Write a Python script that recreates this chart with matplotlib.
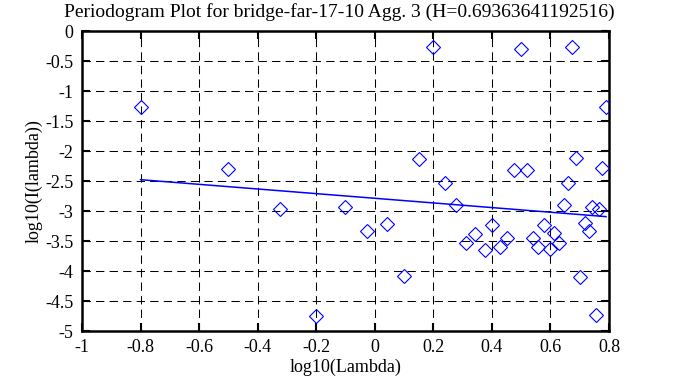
import matplotlib
matplotlib.use("Agg")
import matplotlib.pyplot as plt

# Data
log_lambda = [-0.800, -0.501, -0.325, -0.200, -0.103, -0.025, 0.043, 0.100,
              0.152, 0.198, 0.239, 0.277, 0.312, 0.344, 0.375, 0.402,
              0.429, 0.453, 0.476, 0.499, 0.521, 0.540, 0.559, 0.578,
              0.598, 0.613, 0.630, 0.645, 0.660, 0.675, 0.688, 0.702,
              0.717, 0.731, 0.741, 0.754, 0.767, 0.777, 0.790]
log_I = [-1.267, -2.295, -2.97, -4.745, -2.94, -3.34, -3.21, -4.09,
         -2.13, -0.267, -2.54, -2.905, -3.53, -3.38, -3.65, -3.23,
         -3.595, -3.445, -2.317, -0.30, -2.317, -3.445, -3.595, -3.23,
         -3.64, -3.37, -3.53, -2.90, -2.54, -0.267, -2.12, -4.10,
         -3.20, -3.34, -2.93, -4.74, -2.97, -2.29, -1.267]
fit_slope = -0.3873
fit_intercept = -2.788
fit_x = [log_lambda[0], log_lambda[-1]]
fit_y = [fit_intercept + fit_slope * x for x in fit_x]

x_ticks = [-1, -0.8, -0.6, -0.4, -0.2, 0, 0.2, 0.4, 0.6, 0.8]
x_labels = ["-1", "-0.8", "-0.6", "-0.4", "-0.2", "0", "0.2", "0.4", "0.6", "0.8"]
y_ticks = [0, -0.5, -1, -1.5, -2, -2.5, -3, -3.5, -4, -4.5, -5]
y_labels = ["0", "-0.5", "-1", "-1.5", "-2", "-2.5", "-3", "-3.5", "-4", "-4.5", "-5"]

title = "Periodogram Plot for bridge-far-17-10 Agg. 3 (H=0.69363641192516)"

plt.rcParams['font.family'] = ['Liberation Serif', 'DejaVu Serif']

fig = plt.figure(figsize=(6.78, 3.87), dpi=100)
ax = fig.add_axes([82/678, 1-331/387, (609-82)/678, (331-31)/387])

ax.plot(log_lambda, log_I, linestyle='none', marker='D', markersize=7.0,
        markerfacecolor='none', markeredgecolor='#0000ff', markeredgewidth=0.8,
        zorder=3)
ax.plot(fit_x, fit_y, color='#0000ff', linewidth=1.1, zorder=2)

ax.set_xlim(-1, 0.8)
ax.set_ylim(-5, 0)
ax.set_xticks(x_ticks)
ax.set_xticklabels(x_labels)
ax.set_yticks(y_ticks)
ax.set_yticklabels(y_labels)

ax.grid(True, color='black', linestyle=(0, (8, 5)), linewidth=0.75)
ax.set_axisbelow(True)
for s in ax.spines.values():
    s.set_linewidth(1.8)
ax.tick_params(direction='in', length=6, width=1.5, top=True, right=True,
               labelsize=13, pad=6)

fig.text(0.5, 1 - 17/387, title, fontsize=14, ha='center', va='baseline')
ax.set_xlabel("log10(Lambda)", fontsize=13, labelpad=2)
ax.set_ylabel("log10(I(lambda))", fontsize=13, labelpad=2)

fig.savefig("out.png", dpi=100)
